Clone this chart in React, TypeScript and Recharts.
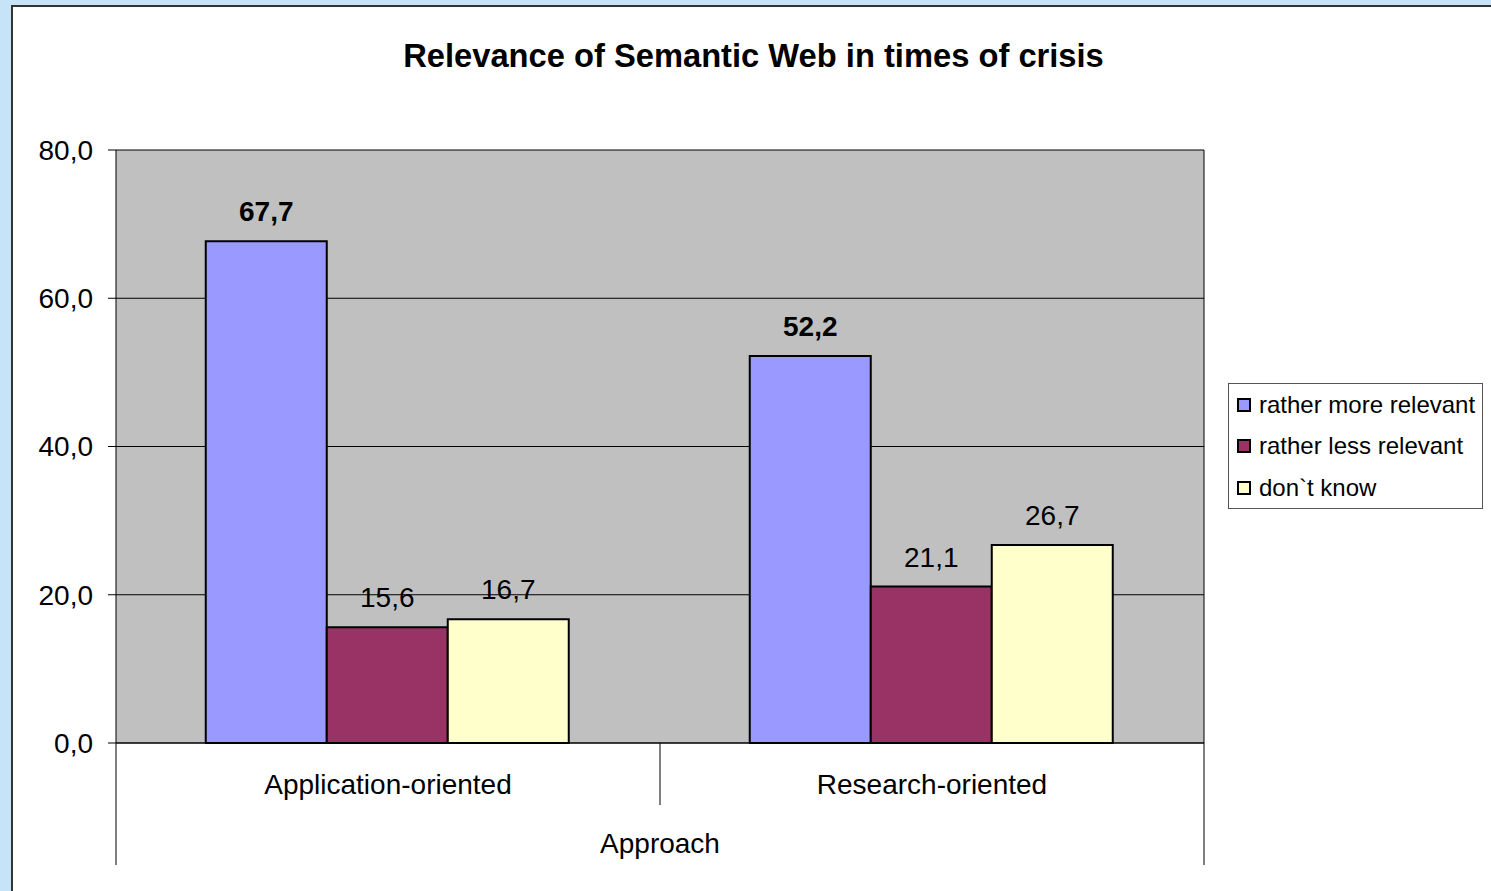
import {
  BarChart,
  Bar,
  XAxis,
  YAxis,
  CartesianGrid,
  LabelList,
} from "recharts";

const categories = ["Application-oriented", "Research-oriented"];
const moreRelevant = [67.7, 52.2];
const lessRelevant = [15.6, 21.1];
const dontKnow = [16.7, 26.7];
const yTicks = [0, 20, 40, 60, 80];

const series = [
  { key: "more", name: "rather more relevant", fill: "#9999FF", bold: true },
  { key: "less", name: "rather less relevant", fill: "#993366", bold: false },
  { key: "dk", name: "don`t know", fill: "#FFFFCC", bold: false },
];

const data = categories.map((c, i) => ({
  name: c,
  more: moreRelevant[i],
  less: lessRelevant[i],
  dk: dontKnow[i],
}));

const FONT = "Arial, 'Liberation Sans', sans-serif";
const fmt = (v: number) => v.toFixed(1).replace(".", ",");

// category labels + the two-level separator lines under the x axis
const CategoryTick = (props: any) => {
  const { x, y, payload, index } = props;
  const half = payload && payload.offset ? payload.offset : 272;
  const last = index === categories.length - 1;
  return (
    <g>
      <line x1={x - half} y1={y - 8} x2={x - half} y2={index === 0 ? y + 114 : y + 54} stroke="#000" />
      {last && <line x1={x + half} y1={y - 8} x2={x + half} y2={y + 114} stroke="#000" />}
      <text x={x} y={y + 43} textAnchor="middle" fontSize={28} fontFamily={FONT} fill="#000">
        {payload.value}
      </text>
    </g>
  );
};

const LegendBox = () => (
  <div
    style={{
      position: "absolute",
      left: 1228,
      top: 383,
      width: 255,
      height: 126,
      border: "1px solid #555",
      background: "#fff",
      boxSizing: "border-box",
      paddingLeft: 8,
      fontFamily: FONT,
      fontSize: 24,
      color: "#000",
    }}
  >
    {series.map((s) => (
      <div key={s.key} style={{ display: "flex", alignItems: "center", height: 41.5, whiteSpace: "nowrap" }}>
        <span
          style={{
            width: 14,
            height: 14,
            background: s.fill,
            border: "2px solid #000",
            boxSizing: "border-box",
            marginRight: 8,
            flexShrink: 0,
          }}
        />
        {s.name}
      </div>
    ))}
  </div>
);

const App = () => {
  return (
    <div
      style={{
        position: "fixed",
        left: 0,
        top: 0,
        width: 1491,
        height: 891,
        overflow: "hidden",
        background: "#C6E3F7",
      }}
    >
      <div
        style={{
          position: "absolute",
          left: 11,
          top: 5,
          width: 1520,
          height: 920,
          background: "#fff",
          border: "2px solid #333",
        }}
      />
      <div
        style={{
          position: "absolute",
          left: 0,
          top: 37,
          width: 1507,
          textAlign: "center",
          fontFamily: FONT,
          fontWeight: "bold",
          fontSize: 32.7,
          color: "#000",
          whiteSpace: "nowrap",
        }}
      >
        Relevance of Semantic Web in times of crisis
      </div>
      <div style={{ position: "absolute", left: 0, top: 0 }}>
        <BarChart
          width={1491}
          height={891}
          data={data}
          margin={{ top: 150, right: 287, bottom: 26, left: 12 }}
          barCategoryGap="16.5%"
          barGap={0}
        >
          <CartesianGrid
            fill="#C0C0C0"
            stroke="#000"
            horizontal={true}
            vertical={true}
            verticalCoordinatesGenerator={() => [1204]}
          />
          <XAxis
            dataKey="name"
            axisLine={{ stroke: "#000" }}
            tickLine={false}
            height={122}
            interval={0}
            tick={<CategoryTick />}
            label={{
              value: "Approach",
              position: "insideBottom",
              offset: 12,
              fontSize: 28,
              fontFamily: FONT,
              fill: "#000",
            }}
          />
          <YAxis
            domain={[0, 80]}
            ticks={yTicks}
            width={104}
            tickFormatter={fmt}
            tickSize={8}
            tickMargin={15}
            axisLine={{ stroke: "#000" }}
            tickLine={{ stroke: "#000" }}
            tick={{ fontSize: 28, fontFamily: FONT, fill: "#000" }}
          />
          {series.map((s) => (
            <Bar
              key={s.key}
              dataKey={s.key}
              name={s.name}
              fill={s.fill}
              stroke="#000"
              strokeWidth={2}
              isAnimationActive={false}
            >
              <LabelList
                dataKey={s.key}
                position="top"
                offset={20}
                formatter={(v: any) => fmt(Number(v))}
                style={{
                  fontSize: 28,
                  fontFamily: FONT,
                  fontWeight: s.bold ? "bold" : "normal",
                  fill: "#000",
                }}
              />
            </Bar>
          ))}
        </BarChart>
      </div>
      <LegendBox />
    </div>
  );
};

export default App;
